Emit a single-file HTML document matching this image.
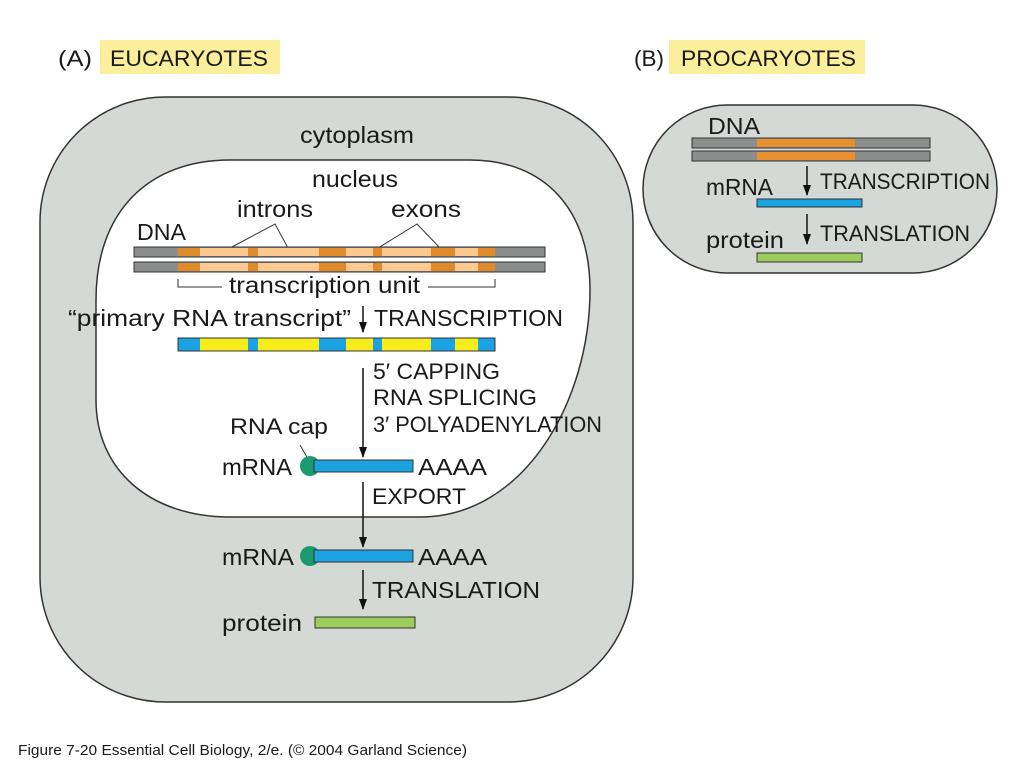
<!DOCTYPE html>
<html><head><meta charset="utf-8"><style>
html,body{margin:0;padding:0;background:#fff;}
svg{display:block;}
text{font-family:"Liberation Sans",sans-serif;fill:#1a1a1a;}
</style></head><body>
<svg width="1024" height="768" viewBox="0 0 1024 768" xmlns="http://www.w3.org/2000/svg">
<defs>
<marker id="ah" markerWidth="11" markerHeight="9" refX="10" refY="4" orient="auto" markerUnits="userSpaceOnUse">
<path d="M0,0 L11,4 L0,8 Z" fill="#111"/>
</marker>
</defs>
<!-- headers -->
<text x="58" y="66" font-size="22" textLength="34" lengthAdjust="spacingAndGlyphs">(A)</text>
<rect x="100" y="40" width="180" height="34" fill="#fcef9c"/>
<text x="110" y="66" font-size="22" textLength="158" lengthAdjust="spacingAndGlyphs">EUCARYOTES</text>
<text x="634" y="66" font-size="22" textLength="30" lengthAdjust="spacingAndGlyphs">(B)</text>
<rect x="669" y="40" width="196" height="34" fill="#fcef9c"/>
<text x="681" y="66" font-size="22" textLength="175" lengthAdjust="spacingAndGlyphs">PROCARYOTES</text>

<!-- A cell -->
<rect x="40" y="97" width="593" height="605" rx="125" fill="#d4d9d6" stroke="#333" stroke-width="1.5"/>
<text x="300" y="143" font-size="23" textLength="114" lengthAdjust="spacingAndGlyphs">cytoplasm</text>
<path d="M230,160 L470,160 C545,160 590,210 590,290 C590,400 525,517 420,517 L230,517 C150,517 96,470 96,400 L96,300 C96,210 150,160 230,160 Z" fill="#fff" stroke="#333" stroke-width="1.5"/>
<text x="312" y="187" font-size="23" textLength="86" lengthAdjust="spacingAndGlyphs">nucleus</text>
<text x="237" y="217" font-size="23" textLength="76" lengthAdjust="spacingAndGlyphs">introns</text>
<text x="391" y="217" font-size="23" textLength="70" lengthAdjust="spacingAndGlyphs">exons</text>
<text x="137" y="240" font-size="23" textLength="49" lengthAdjust="spacingAndGlyphs">DNA</text>
<polyline points="230,248 275,224 288,248" fill="none" stroke="#333" stroke-width="1"/>
<polyline points="378,248 417,224 440,248" fill="none" stroke="#333" stroke-width="1"/>
<!-- DNA strands -->
<g stroke="#333" stroke-width="1">
<rect x="134" y="247" width="411" height="10" fill="#8c8e8e"/>
<rect x="134" y="262" width="411" height="10" fill="#8c8e8e"/>
</g>
<g>
<rect x="178" y="248" width="317" height="8" fill="#fcc98f"/>
<rect x="178" y="263" width="317" height="8" fill="#fcc98f"/>
<g fill="#e08a2a">
<rect x="178" y="248" width="22" height="8"/><rect x="178" y="263" width="22" height="8"/>
<rect x="248" y="248" width="10" height="8"/><rect x="248" y="263" width="10" height="8"/>
<rect x="319" y="248" width="27" height="8"/><rect x="319" y="263" width="27" height="8"/>
<rect x="373" y="248" width="9" height="8"/><rect x="373" y="263" width="9" height="8"/>
<rect x="431" y="248" width="24" height="8"/><rect x="431" y="263" width="24" height="8"/>
<rect x="478" y="248" width="17" height="8"/><rect x="478" y="263" width="17" height="8"/>
</g>
</g>
<polyline points="178,279 178,287 222,287" fill="none" stroke="#333" stroke-width="1"/>
<polyline points="428,287 495,287 495,279" fill="none" stroke="#333" stroke-width="1"/>
<text x="229" y="293" font-size="23" textLength="191" lengthAdjust="spacingAndGlyphs">transcription unit</text>
<text x="68" y="326" font-size="23" textLength="283" lengthAdjust="spacingAndGlyphs">“primary RNA transcript”</text>
<line x1="363" y1="306" x2="363" y2="332" stroke="#111" stroke-width="1.5" marker-end="url(#ah)"/>
<text x="374" y="326" font-size="23" textLength="189" lengthAdjust="spacingAndGlyphs">TRANSCRIPTION</text>
<!-- primary transcript -->
<rect x="178" y="338" width="317" height="13" fill="#1aa3e0" stroke="#333" stroke-width="1"/>
<g fill="#f8ec1a">
<rect x="200" y="338.5" width="48" height="12"/>
<rect x="258" y="338.5" width="61" height="12"/>
<rect x="346" y="338.5" width="27" height="12"/>
<rect x="382" y="338.5" width="49" height="12"/>
<rect x="455" y="338.5" width="23" height="12"/>
</g>
<line x1="363" y1="368" x2="363" y2="457" stroke="#111" stroke-width="1.5" marker-end="url(#ah)"/>
<text x="373" y="379" font-size="22" textLength="127" lengthAdjust="spacingAndGlyphs">5′ CAPPING</text>
<text x="373" y="405" font-size="22" textLength="164" lengthAdjust="spacingAndGlyphs">RNA SPLICING</text>
<text x="373" y="432" font-size="22" textLength="229" lengthAdjust="spacingAndGlyphs">3′ POLYADENYLATION</text>
<text x="230" y="434" font-size="22" textLength="98" lengthAdjust="spacingAndGlyphs">RNA cap</text>
<line x1="300" y1="445" x2="308" y2="459" stroke="#333" stroke-width="1"/>
<!-- mRNA 1 -->
<text x="222" y="475" font-size="23" textLength="70" lengthAdjust="spacingAndGlyphs">mRNA</text>
<circle cx="310" cy="466" r="10" fill="#1a9a6e"/>
<rect x="314" y="460" width="99" height="12" fill="#1aa3e0" stroke="#333" stroke-width="1"/>
<text x="418" y="475" font-size="23" textLength="69" lengthAdjust="spacingAndGlyphs">AAAA</text>
<line x1="363" y1="482" x2="363" y2="547" stroke="#111" stroke-width="1.5" marker-end="url(#ah)"/>
<text x="372" y="504" font-size="22" textLength="94" lengthAdjust="spacingAndGlyphs">EXPORT</text>
<!-- mRNA 2 -->
<text x="222" y="565" font-size="23" textLength="72" lengthAdjust="spacingAndGlyphs">mRNA</text>
<circle cx="310" cy="556" r="10" fill="#1a9a6e"/>
<rect x="314" y="550" width="99" height="12" fill="#1aa3e0" stroke="#333" stroke-width="1"/>
<text x="418" y="565" font-size="23" textLength="69" lengthAdjust="spacingAndGlyphs">AAAA</text>
<line x1="363" y1="570" x2="363" y2="609" stroke="#111" stroke-width="1.5" marker-end="url(#ah)"/>
<text x="372" y="598" font-size="23" textLength="168" lengthAdjust="spacingAndGlyphs">TRANSLATION</text>
<text x="222" y="631" font-size="23" textLength="80" lengthAdjust="spacingAndGlyphs">protein</text>
<rect x="315" y="617" width="100" height="11" fill="#9ccd5c" stroke="#333" stroke-width="1"/>

<!-- B cell -->
<rect x="643" y="105" width="354" height="168" rx="84" fill="#d4d9d6" stroke="#333" stroke-width="1.5"/>
<text x="708" y="134" font-size="23" textLength="52" lengthAdjust="spacingAndGlyphs">DNA</text>
<g stroke="#333" stroke-width="1">
<rect x="692" y="138" width="238" height="10" fill="#8c8e8e"/>
<rect x="692" y="151" width="238" height="10" fill="#8c8e8e"/>
</g>
<rect x="757" y="139" width="98" height="8" fill="#e8902e"/>
<rect x="757" y="152" width="98" height="8" fill="#e8902e"/>
<line x1="807" y1="166" x2="807" y2="195" stroke="#111" stroke-width="1.5" marker-end="url(#ah)"/>
<text x="820" y="189" font-size="22" textLength="170" lengthAdjust="spacingAndGlyphs">TRANSCRIPTION</text>
<text x="706" y="195" font-size="23" textLength="67" lengthAdjust="spacingAndGlyphs">mRNA</text>
<rect x="757" y="199" width="105" height="8" fill="#1aa3e0" stroke="#333" stroke-width="1"/>
<line x1="807" y1="214" x2="807" y2="244" stroke="#111" stroke-width="1.5" marker-end="url(#ah)"/>
<text x="820" y="241" font-size="22" textLength="150" lengthAdjust="spacingAndGlyphs">TRANSLATION</text>
<text x="706" y="248" font-size="23" textLength="78" lengthAdjust="spacingAndGlyphs">protein</text>
<rect x="757" y="253" width="105" height="9" fill="#9ccd5c" stroke="#333" stroke-width="1"/>

<text x="18" y="755" font-size="15" textLength="449" lengthAdjust="spacingAndGlyphs">Figure 7-20   Essential Cell Biology, 2/e. (© 2004 Garland Science)</text>
</svg>
</body></html>
